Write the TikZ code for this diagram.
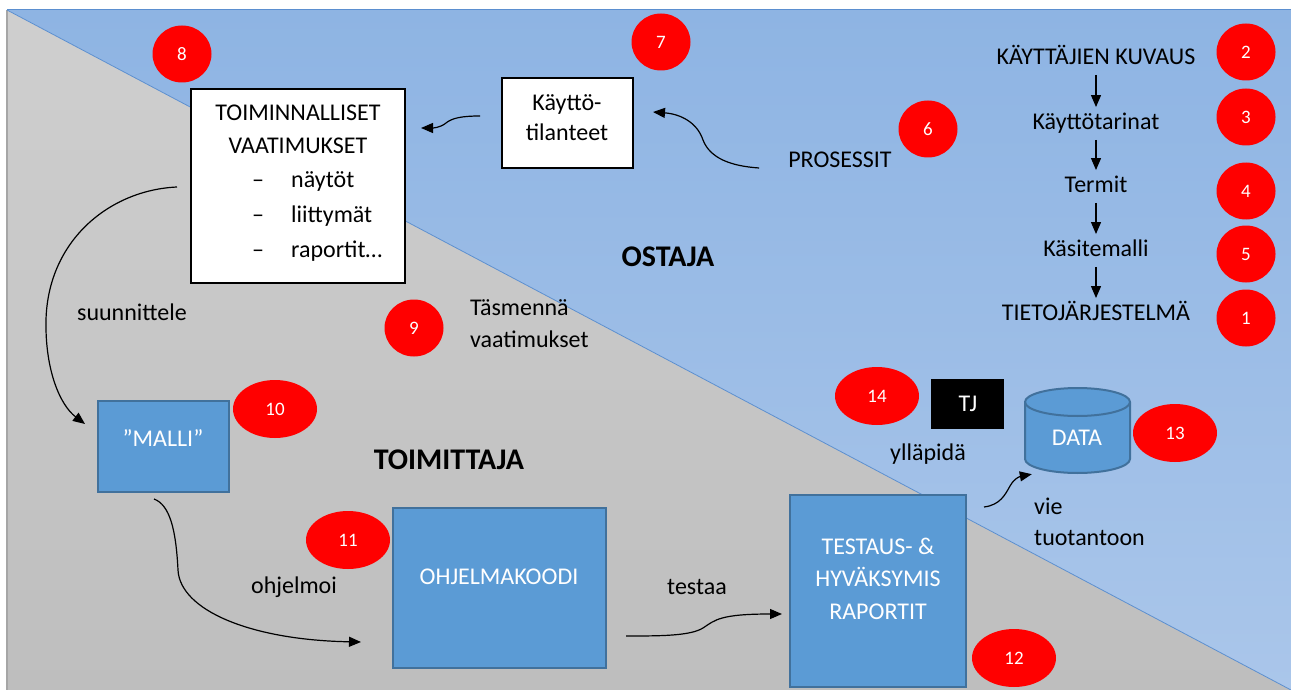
\documentclass[tikz,border=0pt]{standalone}
\usepackage{fontspec}
\setmainfont{Carlito}
\usetikzlibrary{arrows.meta,shapes.geometric}
\definecolor{bluetop}{HTML}{8EB4E3}
\definecolor{bluebot}{HTML}{AAC6EA}
\definecolor{graytop}{HTML}{CFCFCF}
\definecolor{graybot}{HTML}{BEBEBE}
\definecolor{edgeblue}{HTML}{5B8FD0}
\definecolor{edgegray}{HTML}{A6A6A6}
\definecolor{boxblue}{HTML}{5B9BD5}
\definecolor{boxedge}{HTML}{41719C}
\begin{document}
\begin{tikzpicture}[x=1pt,y=-1pt,
  txt/.style={inner sep=0pt, text height=15.5pt, text depth=0pt, font=\fontsize{24}{30}\selectfont},
  ttl/.style={inner sep=0pt, text height=19.5pt, text depth=0pt, font=\fontsize{30}{36}\selectfont\bfseries},
  wtxt/.style={txt, text=white},
  badge/.style={ellipse, fill=red, inner sep=0pt, minimum width=59pt, minimum height=57pt, text=white, font=\fontsize{19}{22}\selectfont},
  badgew/.style={badge, minimum width=84pt, minimum height=58pt},
  whitebox/.style={draw=black, fill=white, line width=2pt, inner sep=0pt},
  bluebox/.style={draw=boxedge, fill=boxblue, line width=2pt, inner sep=0pt},
  conn/.style={line width=1.2pt, -{Triangle[length=12pt,width=10pt]}},
  vconn/.style={conn, shorten <=10pt, shorten >=7pt},
]
\useasboundingbox (0,0) rectangle (1291,690);
\fill[white] (0,0) rectangle (1291,690);
% background regions
\shade[top color=bluetop, bottom color=bluebot] (7,10) -- (1291,10) -- (1291,690) -- cycle;
\shade[top color=graytop, bottom color=graybot] (7,10) -- (1291,690) -- (7,690) -- cycle;
\draw[edgegray, line width=1.2pt] (7,10) -- (7,690);
\draw[edgeblue, line width=1pt] (7,10) -- (1291,10);
\draw[edgeblue, line width=0.8pt] (7,10) -- (1291,690);

% boxes
\node[whitebox, minimum width=214pt, minimum height=194pt] (toim) at (298,186) {};
\node[txt] (toimA) at (298,113) {TOIMINNALLISET};
\node[txt] (toimB) at (298,146) {VAATIMUKSET};
\node[txt] (d1) at (258,180) {–};
\node[txt] (d2) at (258,215) {–};
\node[txt] (d3) at (258,250) {–};
\node[txt, anchor=west] (b1) at (291,180) {näytöt};
\node[txt, anchor=west] (b2) at (291,215) {liittymät};
\node[txt, anchor=west] (b3) at (291,250) {raportit…};

\node[whitebox, minimum width=131pt, minimum height=90pt] (kaytto) at (567.5,123) {};
\node[txt] (kayttoA) at (567,103) {Käyttö-};
\node[txt] (kayttoB) at (567,133) {tilanteet};

\node[bluebox, minimum width=131pt, minimum height=91pt] (malli) at (163.5,446.5) {};
\node[wtxt] (malliT) at (163,439) {”MALLI”};

\node[bluebox, minimum width=213pt, minimum height=160pt] (ohj) at (499.5,588) {};
\node[wtxt] (ohjT) at (499,577) {OHJELMAKOODI};

\node[bluebox, minimum width=176pt, minimum height=192pt] (testaus) at (878,591) {};
\node[wtxt] (tesA) at (878,547) {TESTAUS- \&};
\node[wtxt] (tesB) at (878,579) {HYVÄKSYMIS};
\node[wtxt] (tesC) at (878,612) {RAPORTIT};

\node[fill=black, minimum width=73pt, minimum height=50pt, inner sep=0pt] (tjbox) at (967.5,404) {};
\node[wtxt] (tjT) at (968,404) {TJ};

% DATA cylinder
\path[fill=boxblue, draw=boxedge, line width=2pt] (1025,402) -- (1025,459)
  arc[start angle=180, end angle=0, x radius=52.5, y radius=14] -- (1130,402)
  arc[start angle=0, end angle=-180, x radius=52.5, y radius=14] -- cycle;
\draw[boxedge, line width=2pt] (1025,402) arc[start angle=180, end angle=0, x radius=52.5, y radius=14];
\node[minimum width=105pt, minimum height=85pt, inner sep=0pt] (data) at (1077.5,430.5) {};
\node[wtxt] (dataT) at (1077,438) {DATA};

% right column
\node[txt] (kk) at (1096,57) {KÄYTTÄJIEN KUVAUS};
\node[txt] (kt) at (1096,122) {Käyttötarinat};
\node[txt] (te) at (1096,185) {Termit};
\node[txt] (ka) at (1096,249) {Käsitemalli};
\node[txt] (tjs) at (1096,313) {TIETOJÄRJESTELMÄ};
\draw[vconn] (kk) -- (kt);
\draw[vconn] (kt) -- (te);
\draw[vconn] (te) -- (ka);
\draw[vconn] (ka) -- (tjs);

% labels
\node[txt] (pros) at (840,160) {PROSESSIT};
\node[ttl] (ostaja) at (668,257) {OSTAJA};
\node[ttl] (toimittaja) at (449,460) {TOIMITTAJA};
\node[txt] (suun) at (132,313) {suunnittele};
\node[txt, anchor=west] (tasA) at (470,308) {Täsmennä};
\node[txt, anchor=west] (tasB) at (470,340) {vaatimukset};
\node[txt] (ohjl) at (294,586) {ohjelmoi};
\node[txt] (testaa) at (697,587) {testaa};
\node[txt] (yllapida) at (928,453) {ylläpidä};
\node[txt, anchor=west] (vieA) at (1034,507) {vie};
\node[txt, anchor=west] (vieB) at (1034,538) {tuotantoon};

% badges
\node[badge] (c1) at (1246,318) {1};
\node[badge] (c2) at (1246,52) {2};
\node[badge] (c3) at (1246,117) {3};
\node[badge] (c4) at (1246,191) {4};
\node[badge] (c5) at (1246,254) {5};
\node[badge] (c6) at (928,129) {6};
\node[badge] (c7) at (661,42) {7};
\node[badge] (c8) at (182,54) {8};
\node[badge] (c9) at (414,328) {9};
\node[badgew] (c10) at (275,409) {10};
\node[badgew] (c11) at (348,540) {11};
\node[badgew] (c12) at (1014,658) {12};
\node[badgew] (c13) at (1175,433) {13};
\node[badgew] (c14) at (877,396) {14};

% connectors
\draw[conn] ([xshift=-29pt,yshift=-8pt]pros.west) .. controls (730,166) and (710,158) .. (703,140)
  .. controls (697,122) and (680,114) .. ([xshift=19pt,yshift=11pt]kaytto.east);
\draw[conn] ([xshift=-21pt,yshift=7pt]kaytto.west) .. controls (462,116) and (452,118) .. (446,123)
  .. controls (440,128) and (432,128) .. ([xshift=15pt,yshift=58pt]toim.east);
\draw[conn] ([xshift=-13pt,yshift=-1pt]toim.west) .. controls (110,190) and (48,240) .. (46,320)
  .. controls (45,370) and (60,405) .. ([xshift=-12pt,yshift=22.5pt]malli.west);
\draw[conn] ([xshift=-9.5pt,yshift=-6pt]malli.south) .. controls (170,505) and (176,530) .. (178,570)
  .. controls (180,610) and (250,640) .. ([xshift=-31pt,yshift=-54pt]ohj.west);
\draw[conn] ([xshift=19pt,yshift=-48pt]ohj.east) .. controls (660,636) and (690,636) .. (703,628)
  .. controls (715,620) and (720,614) .. ([xshift=-7pt,yshift=-23pt]testaus.west);
\draw[conn] ([xshift=17pt,yshift=-13pt]testaus.north east) .. controls (1000,505) and (1005,495) .. (1010,486)
  .. controls (1015,477) and (1022,476) .. ([xshift=7pt,yshift=-1pt]data.south west);
\end{tikzpicture}
\end{document}
